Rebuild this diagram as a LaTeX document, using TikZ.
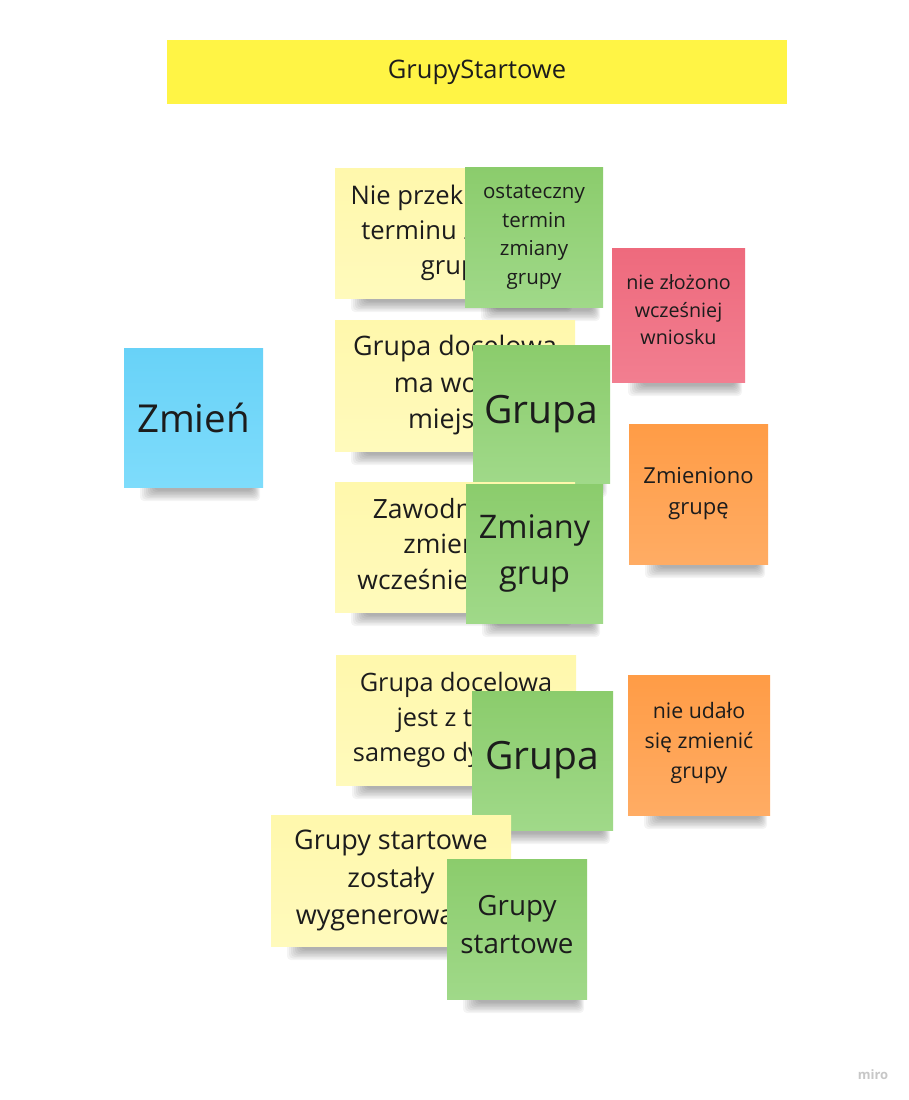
\documentclass[tikz,border=0pt]{standalone}
\usepackage{fontspec}
\setmainfont{Open Sans}
\definecolor{txt}{HTML}{1C1C1C}
\definecolor{ytop}{HTML}{FFF8AC}\definecolor{ybot}{HTML}{FFFABC}
\definecolor{gtop}{HTML}{8BCC6C}\definecolor{gbot}{HTML}{A0D989}
\definecolor{rtop}{HTML}{EE6A7D}\definecolor{rbot}{HTML}{F27E90}
\definecolor{otop}{HTML}{FF9C46}\definecolor{obot}{HTML}{FFAC64}
\definecolor{btop}{HTML}{68D2F8}\definecolor{bbot}{HTML}{7EDCFB}
\definecolor{titlec}{HTML}{FFF445}
\newcommand\fsz[2]{\fontsize{#1pt}{#2pt}\selectfont}
% \sticky[text raise]{name}{cx}{cy}{w}{h}{style}{font}{text}
\newcommand\sticky[9][0]{%
  \pgfmathsetmacro\xa{#3-#5/2}\pgfmathsetmacro\xb{#3+#5/2}\pgfmathsetmacro\yb{#4+#6/2}%
  \foreach \i in {0,...,7}{\fill[black,opacity=0.045,rounded corners=4pt] ({\xa+16+2*\i},{\yb-6}) rectangle ({\xb-3-\i},{\yb+14-1.5*\i});}%
  \node[#7, minimum width=#5pt, minimum height=#6pt] (#2) at (#3,#4) {};
  \node[note, font=#8] (#2-t) at ([yshift=#1pt]#2.center) {#9};}
\tikzset{
  note/.style={inner sep=0pt, align=center, text=txt},
  ynote/.style={note, top color=ytop, bottom color=ybot},
  gnote/.style={note, top color=gtop, bottom color=gbot},
  rnote/.style={note, top color=rtop, bottom color=rbot},
  onote/.style={note, top color=otop, bottom color=obot},
  bnote/.style={note, top color=btop, bottom color=bbot},
}
\begin{document}
\begin{tikzpicture}[x=1pt,y=-1pt]
\fill[white] (0,0) rectangle (908,1100);
\useasboundingbox (0,0) rectangle (908,1100);
\node[note, fill=titlec, minimum width=620pt, minimum height=64pt, font=\fsz{25.5}{30}] (title) at (477,72) {GrupyStartowe};
\sticky{y1}{455}{233}{240}{130}{ynote}{\fsz{25.6}{35}}{Nie przekroczono\\terminu zmiany\\grupy}
\sticky{g1}{534}{237}{138}{140}{gnote}{\fsz{20.5}{28.5}}{ostateczny\\termin\\zmiany\\grupy}
\sticky[5]{r1}{678.5}{315}{133}{134}{rnote}{\fsz{19.7}{27.5}}{nie złożono\\wcześniej\\wniosku}
\sticky{y2}{455}{385.5}{240}{131}{ynote}{\fsz{26.8}{36.5}}{Grupa docelowa\\ma wolne\\miejsca}
\sticky{g2}{541.5}{414}{137}{138}{gnote}{\fsz{39}{46}}{Grupa}
\sticky{zm}{193.5}{417.5}{139}{139}{bnote}{\fsz{38.5}{46}}{Zmień}
\sticky{o1}{698.5}{494}{139}{140}{onote}{\fsz{22}{31}}{Zmieniono\\grupę}
\sticky{y3}{455}{547}{240}{130}{ynote}{\fsz{26.5}{35.5}}{Zawodnik nie\\zmieniał\\wcześniej grupy}
\sticky{g3}{534.5}{553.5}{137}{139}{gnote}{\fsz{32.5}{46}}{Zmiany\\grup}
\sticky{y4}{456}{720}{240}{130}{ynote}{\fsz{25.3}{35}}{Grupa docelowa\\jest z tego\\samego dystansu}
\sticky{g4}{542.5}{760.5}{141}{139}{gnote}{\fsz{39}{46}}{Grupa}
\sticky[2]{o2}{699}{745}{142}{140}{onote}{\fsz{21.3}{30}}{nie udało\\się zmienić\\grupy}
\sticky{y5}{391}{880.5}{240}{131}{ynote}{\fsz{27}{37.5}}{Grupy startowe\\zostały\\wygenerowane}
\sticky[4]{g5}{517}{929}{140}{140}{gnote}{\fsz{27.8}{38}}{Grupy\\startowe}
\node[text=black!22, font=\fsz{13}{15}\bfseries] (miro) at (873,1075) {miro};
\end{tikzpicture}
\end{document}
